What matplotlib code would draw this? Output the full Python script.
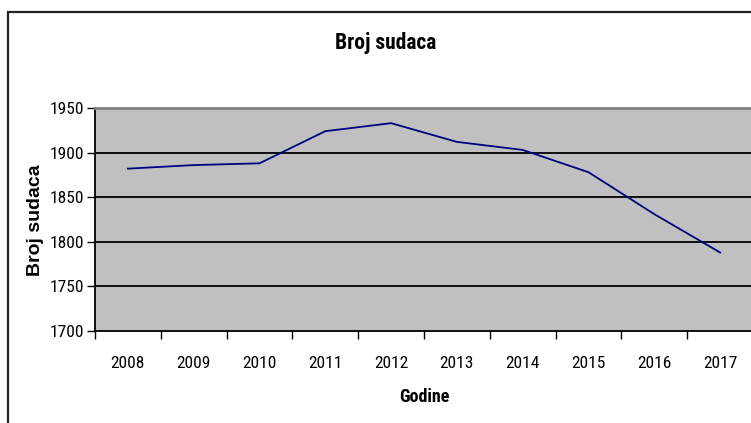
import matplotlib
matplotlib.use("Agg")
import matplotlib.pyplot as plt
from matplotlib.patches import Rectangle

years = ["2008", "2009", "2010", "2011", "2012", "2013", "2014", "2015", "2016", "2017"]
judges = [1882, 1886, 1888, 1924, 1933, 1912, 1903, 1878, 1831, 1788]
yticks = [1700, 1750, 1800, 1850, 1900, 1950]

narrow = ["Roboto Condensed", "Liberation Sans", "DejaVu Sans"]

W, H = 751, 423
fig = plt.figure(figsize=(W / 100, H / 100), dpi=100)
fig.patch.set_facecolor("white")

# outer chart border
fig.add_artist(Rectangle((8 / W, -0.05), 1.2, 1 - 12 / H + 0.05, transform=fig.transFigure,
                         fill=False, edgecolor="#222222", linewidth=1.6))

ax = fig.add_axes([95 / W, 1 - 331 / H, 658 / W, 223 / H])
ax.set_facecolor("#C0C0C0")
x = list(range(len(years)))
ax.plot(x, judges, color="#000080", linewidth=1.3)
ax.set_xlim(-0.5, len(years) - 0.5)
ax.set_ylim(1700, 1950)
ax.set_yticks(yticks)
for v in yticks[1:-1]:
    ax.axhline(v, color="black", linewidth=1.3, zorder=1)

ax.set_xticks([i - 0.5 for i in range(len(years) + 1)])
ax.set_xticklabels([])
ax.set_xticks(x, minor=True)
ax.set_xticklabels(years, minor=True, fontfamily=narrow, fontsize=12.5)
ax.tick_params(axis="x", which="minor", length=0, pad=18)
ax.tick_params(axis="x", which="major", length=6, width=1, direction="out", color="black")
ax.tick_params(axis="y", length=6, width=1, direction="out", pad=2)
for lab in ax.get_yticklabels():
    lab.set_fontfamily(narrow)
    lab.set_fontsize(12.5)

ax.spines["top"].set_color("#808080")
ax.spines["top"].set_linewidth(2)
ax.spines["left"].set_color("black")
ax.spines["bottom"].set_color("black")
ax.spines["left"].set_linewidth(1.3)
ax.spines["bottom"].set_linewidth(1.3)
ax.spines["right"].set_visible(False)

fig.text(386 / W, 1 - 43 / H, "Broj sudaca", fontfamily=narrow, fontweight="bold",
         fontsize=15.5, ha="center", va="center")
fig.text(424 / W, 1 - 397 / H, "Godine", fontfamily=narrow, fontweight="bold",
         fontsize=13, ha="center", va="center")
fig.text(35 / W, 1 - 220 / H, "Broj sudaca", fontfamily=["Liberation Sans", "DejaVu Sans"],
         fontweight="bold", fontsize=14, ha="center", va="center", rotation=90)

fig.savefig("out.png", dpi=100)
